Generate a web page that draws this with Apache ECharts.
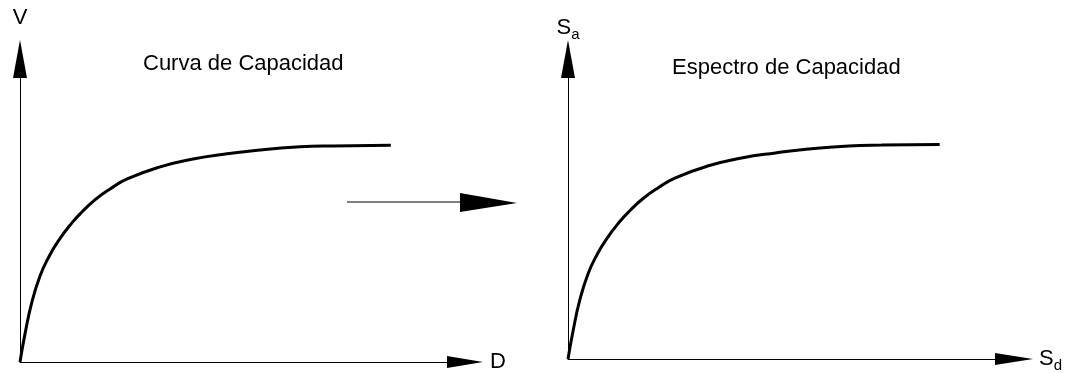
<!DOCTYPE html>
<html>
<head>
<meta charset="utf-8">
<title>Curva de Capacidad / Espectro de Capacidad</title>
<script src="https://cdn.jsdelivr.net/npm/echarts@6/dist/echarts.min.js"></script>
<style>
  html, body { margin: 0; padding: 0; background: #fff; }
  #main { width: 1074px; height: 373px; }
</style>
</head>
<body>
<div id="main"></div>
<script>
  // curva de capacidad (D, V), unidades arbitrarias
  const dValues = [0, 1.4, 3.2, 5.4, 7.6, 10.3, 14.0, 16.7, 20.2, 24.3, 28.9, 37.8, 46.7, 55.8, 64.7, 75.5, 84.4, 100]
  const vValues = [0, 9.6, 19.8, 28.4, 34.3, 39.9, 45.9, 49.5, 53.5, 57.1, 60.4, 64.4, 67.0, 68.7, 70.0, 71.0, 71.3, 71.5]
  // espectro de capacidad (Sd, Sa): misma forma en la figura
  const sdValues = dValues.slice()
  const saValues = vValues.slice()
  const titles = ['Curva de Capacidad', 'Espectro de Capacidad']
  const axisMax = { x: 120, y: 100 }

  const font = 'Liberation Sans, Arial, sans-serif'

  function pairs(xs, ys) {
    const out = []
    for (let i = 0; i < xs.length; i++) {
      out.push([xs[i], ys[i]])
    }
    return out
  }

  // S con subindice
  const subRich = {
    s: { fontSize: 22, fontFamily: font, color: '#000', lineHeight: 22, verticalAlign: 'top' },
    sub: { fontSize: 15, fontFamily: font, color: '#000', lineHeight: 21, verticalAlign: 'top', padding: [10, 0, 0, 0] }
  }

  function xAxisFor(idx, name, arrowLen) {
    return {
      gridIndex: idx,
      type: 'value',
      min: 0,
      max: axisMax.x,
      axisLine: {
        show: true,
        lineStyle: { color: '#000', width: 1 },
        symbol: ['none', 'triangle'],
        symbolSize: [12, arrowLen]
      },
      axisTick: { show: false },
      axisLabel: { show: false },
      splitLine: { show: false },
      name: name,
      nameLocation: 'end',
      nameGap: 25,
      nameTextStyle: { color: '#000', fontSize: 22, fontFamily: font, rich: subRich }
    }
  }

  function yAxisFor(idx, name, gap) {
    return {
      gridIndex: idx,
      type: 'value',
      min: 0,
      max: axisMax.y,
      axisLine: {
        show: true,
        lineStyle: { color: '#000', width: 1 },
        symbol: ['none', 'triangle'],
        symbolSize: [14, 38]
      },
      axisTick: { show: false },
      axisLabel: { show: false },
      splitLine: { show: false },
      name: name,
      nameLocation: 'end',
      nameGap: gap,
      nameTextStyle: { color: '#000', fontSize: 22, fontFamily: font, rich: subRich }
    }
  }

  const curveStyle = {
    type: 'line',
    smooth: 0.5,
    showSymbol: false,
    lineStyle: { color: '#000', width: 3 },
    silent: true
  }

  const chart = echarts.init(document.getElementById('main'))
  const option = {
    backgroundColor: '#fff',
    animation: false,
    title: [
      { text: titles[0], left: 143, top: 53, padding: 0,
        textStyle: { fontSize: 22, fontWeight: 'normal', color: '#000', fontFamily: font } },
      { text: titles[1], left: 672, top: 57, padding: 0,
        textStyle: { fontSize: 22, fontWeight: 'normal', color: '#000', fontFamily: font } }
    ],
    grid: [
      { left: 20, top: 59, width: 445, height: 303 },
      { left: 568, top: 59, width: 446, height: 303 }
    ],
    xAxis: [
      xAxisFor(0, 'D', 36),
      xAxisFor(1, '{s|S}{sub|d}', 38)
    ],
    yAxis: [
      yAxisFor(0, 'V', 30),
      yAxisFor(1, '{s|S}{sub|a}', 20)
    ],
    series: [
      Object.assign({}, curveStyle, { xAxisIndex: 0, yAxisIndex: 0, data: pairs(dValues, vValues) }),
      Object.assign({}, curveStyle, { xAxisIndex: 1, yAxisIndex: 1, data: pairs(sdValues, saValues) })
    ],
    graphic: [
      // flecha entre los dos paneles
      { type: 'line', shape: { x1: 347, y1: 202, x2: 462, y2: 202 }, style: { stroke: '#000', lineWidth: 1 } },
      { type: 'polygon', shape: { points: [[460, 193], [517, 203], [460, 212]] }, style: { fill: '#000' } }
    ]
  }
  chart.setOption(option)
</script>
</body>
</html>
